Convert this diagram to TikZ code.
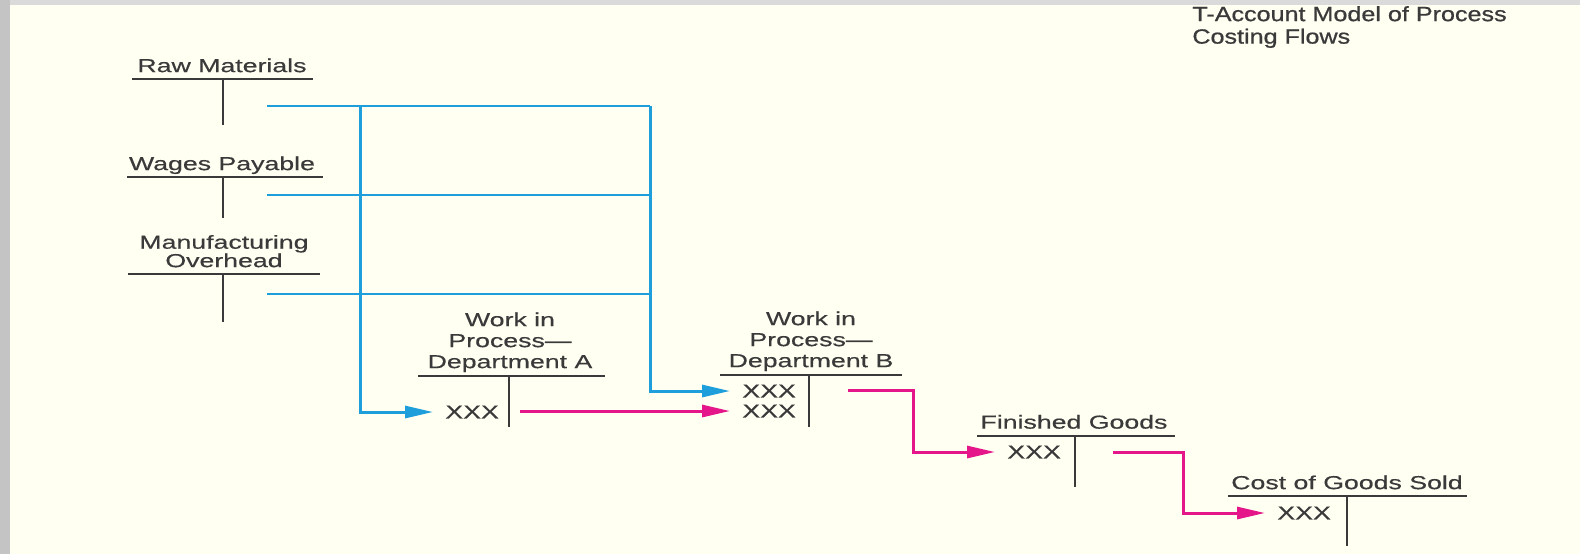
\documentclass[tikz,border=0pt]{standalone}
\usepackage{fontspec}
\setmainfont{Liberation Sans}[FakeStretch=1.42, FakeBold=0.4]
\newfontfamily\headfont{Liberation Sans}[FakeStretch=1.22, FakeBold=0.8]
\usetikzlibrary{arrows.meta}
\definecolor{paper}{HTML}{FFFFF2}
\definecolor{frameside}{HTML}{C4C4C4}
\definecolor{frametop}{HTML}{DADADA}
\definecolor{ink}{HTML}{3A3A3A}
\definecolor{costin}{HTML}{1E9FDC}
\definecolor{transfer}{HTML}{E4168A}

\begin{document}
\begin{tikzpicture}[x=0.5pt, y=-0.5pt, font=\fontsize{9.4}{9.2}\selectfont,
  >={Triangle[length=14pt,width=6pt]},
  acct/.style={anchor=south, inner sep=0pt, text depth=0pt, align=center, text=ink},
  entry/.style={anchor=west, inner xsep=6pt, inner ysep=0pt, text=ink},
  tline/.style={draw=ink, line width=1pt},
  feedline/.style={draw=costin, line width=1.1pt},
  dropline/.style={draw=costin, line width=1.5pt},
  pinkflow/.style={draw=transfer, line width=1.5pt}]
  \useasboundingbox (0,0) rectangle (1580,554);
  \fill[paper] (0,0) rectangle (1580,554);
  \fill[frameside] (0,0) rectangle (10,554);
  \fill[frametop] (10,0) rectangle (1580,5);

  \node[anchor=south west, inner sep=0pt, text depth=0pt, align=left, text=ink,
    font=\headfont\fontsize{10.3}{11.25}\selectfont] (title) at (1192,44)
    {T-Account Model of Process\\Costing Flows};

  % input accounts
  \node[acct] (rm) at (222,72.5) {Raw Materials};
  \draw[tline] (132,79) -- (313,79) (223,79) -- (223,125);
  \node[acct] (wp) at (222,170.5) {Wages Payable};
  \draw[tline] (127,177) -- (323,177) (223,177) -- (223,218);
  \node[acct] (mo) at (224,267.5) {Manufacturing\\Overhead};
  \draw[tline] (128,274) -- (320,274) (223,274) -- (223,322);

  % process and output accounts
  \node[acct, font=\fontsize{9.4}{10.5}\selectfont] (wipa) at (510,368.5) {Work in\\Process—\\Department A};
  \draw[tline] (418,376) -- (605,376) (509,376) -- (509,427);
  \node[acct, font=\fontsize{9.4}{10.5}\selectfont] (wipb) at (811,367.5) {Work in\\Process—\\Department B};
  \draw[tline] (720,375) -- (902,375) (809,375) -- (809,427);
  \node[acct] (fg) at (1074,429) {Finished Goods};
  \draw[tline] (977,436) -- (1175,436) (1075,436) -- (1075,487);
  \node[acct] (cogs) at (1347,489.5) {Cost of Goods Sold};
  \draw[tline] (1228,496) -- (1467,496) (1347,496) -- (1347,546);

  \node[entry] (xa) at (433,412) {XXX};
  \node[entry] (xb1) at (730,391) {XXX};
  \node[entry] (xb2) at (730,411) {XXX};
  \node[entry] (xfg) at (995,452) {XXX};
  \node[entry] (xcg) at (1265,513) {XXX};

  % costs added (blue)
  \coordinate (rmOut) at (267,106);
  \coordinate (wpOut) at (267,195);
  \coordinate (moOut) at (267,294);
  \coordinate (splitA) at (360,106);
  \coordinate (splitB) at (650,106);
  \draw[feedline] (rmOut) -- (splitB);
  \draw[feedline] (wpOut) -- (wpOut -| splitB);
  \draw[feedline] (moOut) -- (moOut -| splitB);
  \draw[dropline, ->] (splitA) |- (xa.west);
  \draw[dropline, ->] (splitB) |- (xb1.west);

  % costs transferred (magenta)
  \coordinate (aOut) at (520,411);
  \coordinate (bOut) at (848,390);
  \coordinate (bTurn) at (913,390);
  \coordinate (fgOut) at (1113,452);
  \coordinate (fgTurn) at (1183,452);
  \draw[pinkflow, ->] (aOut) -- (xb2.west);
  \draw[pinkflow, ->] (bOut) -- (bTurn) |- (xfg.west);
  \draw[pinkflow, ->] (fgOut) -- (fgTurn) |- (xcg.west);
\end{tikzpicture}
\end{document}
